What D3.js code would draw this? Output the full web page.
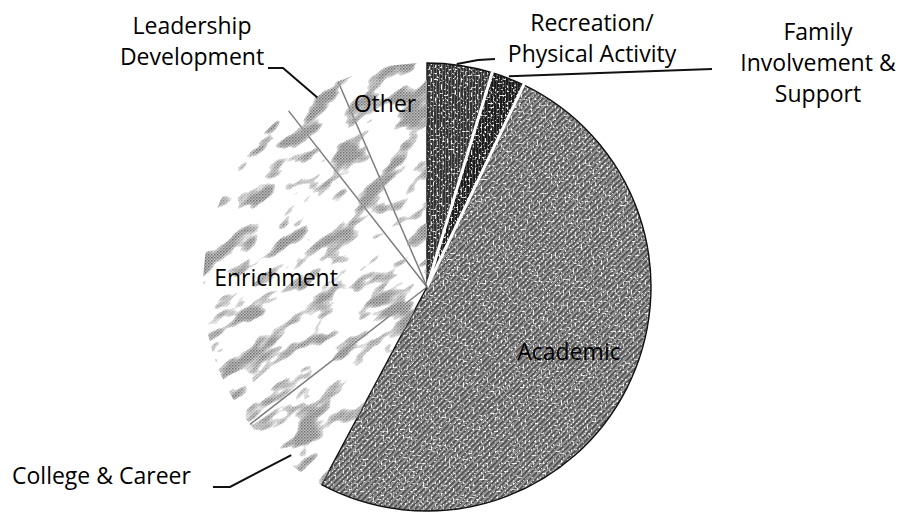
<!DOCTYPE html>
<html>
<head>
<meta charset="utf-8">
<script src="https://cdn.jsdelivr.net/npm/d3@7"></script>
<style>
  html, body { margin: 0; padding: 0; background: #fff; }
  svg { display: block; }
  text { font-family: "Open Sans", "DejaVu Sans", sans-serif; fill: #000; }
</style>
</head>
<body>
<svg id="chart" width="912" height="514"></svg>
<script>
// Share of program activities, in percent, clockwise from 12 o'clock
const categories = [
  "Recreation/Physical Activity",
  "Family Involvement & Support",
  "Academic",
  "College & Career",
  "Enrichment",
  "Leadership Development",
  "Other"
];
const shares = [4.7, 2.4, 50.7, 6.7, 24.9, 4.1, 6.5];

// Label text as drawn (one entry per line)
const labelLines = [
  ["Recreation/", "Physical Activity"],
  ["Family", "Involvement &", "Support"],
  ["Academic"],
  ["College & Career"],
  ["Enrichment"],
  ["Leadership", "Development"],
  ["Other"]
];

const W = 912, H = 514;
const cx = 427, cy = 287, R = 224;

const svg = d3.select("#chart");
const defs = svg.append("defs");

// ---- textures -------------------------------------------------------
// medium grey diagonal hatch
const hatch = defs.append("pattern").attr("id", "hatch")
  .attr("patternUnits", "userSpaceOnUse").attr("width", 4).attr("height", 4)
  .attr("patternTransform", "rotate(45)");
hatch.append("rect").attr("width", 4).attr("height", 4).attr("fill", "#969696");
hatch.append("rect").attr("width", 1.6).attr("height", 4).attr("fill", "#444");

// dark vertical grain
function darkPattern(id, base, stripe) {
  const p = defs.append("pattern").attr("id", id)
    .attr("patternUnits", "userSpaceOnUse").attr("width", 3).attr("height", 3);
  p.append("rect").attr("width", 3).attr("height", 3).attr("fill", base);
  p.append("rect").attr("width", 1).attr("height", 3).attr("fill", stripe);
}
darkPattern("darkA", "#333", "#666");
darkPattern("darkB", "#1c1c1c", "#444");

// fine grey checker used inside the blotches of light slices
const checker = defs.append("pattern").attr("id", "checker")
  .attr("patternUnits", "userSpaceOnUse").attr("width", 3).attr("height", 3);
checker.append("rect").attr("width", 3).attr("height", 3).attr("fill", "#bdbdbd");
checker.append("rect").attr("width", 1.5).attr("height", 1.5).attr("fill", "#707070");
checker.append("rect").attr("x", 1.5).attr("y", 1.5).attr("width", 1.5).attr("height", 1.5).attr("fill", "#8c8c8c");

// white speckle over the printed tones
const speck = defs.append("filter").attr("id", "speck")
  .attr("filterUnits", "userSpaceOnUse")
  .attr("x", -W).attr("y", -H).attr("width", 2 * W).attr("height", 2 * H);
speck.append("feTurbulence").attr("type", "fractalNoise")
  .attr("baseFrequency", 0.5).attr("numOctaves", 2).attr("seed", 4).attr("result", "n");
speck.append("feColorMatrix").attr("in", "n").attr("type", "matrix")
  .attr("values", "0 0 0 0 1  0 0 0 0 1  0 0 0 0 1  5 0 0 0 -2.8").attr("result", "w");
speck.append("feComposite").attr("in", "w").attr("in2", "SourceGraphic")
  .attr("operator", "in").attr("result", "ws");
const merge = speck.append("feMerge");
merge.append("feMergeNode").attr("in", "SourceGraphic");
merge.append("feMergeNode").attr("in", "ws");

// blotchy mask for the light slices, stretched along a diagonal
const blotch = defs.append("filter").attr("id", "blotchNoise")
  .attr("filterUnits", "userSpaceOnUse")
  .attr("x", -W).attr("y", -H).attr("width", 3 * W).attr("height", 3 * H);
blotch.append("feTurbulence").attr("type", "fractalNoise")
  .attr("baseFrequency", "0.022 0.06").attr("numOctaves", 3).attr("seed", 7).attr("result", "n");
blotch.append("feColorMatrix").attr("in", "n").attr("type", "matrix")
  .attr("values", "7 0 0 0 -3.75  7 0 0 0 -3.75  7 0 0 0 -3.75  0 0 0 0 1");
const mask = defs.append("mask").attr("id", "blotchMask")
  .attr("maskUnits", "userSpaceOnUse")
  .attr("x", 0).attr("y", 0).attr("width", W).attr("height", H);
mask.append("rect")
  .attr("x", -W).attr("y", -H).attr("width", 3 * W).attr("height", 3 * H)
  .attr("fill", "#fff").attr("filter", "url(#blotchNoise)")
  .attr("transform", `rotate(-35 ${cx} ${cy})`);

const fills = ["url(#darkA)", "url(#darkB)", "url(#hatch)", "#ffffff", "#ffffff", "#ffffff", "#ffffff"];
const isLight = [false, false, false, true, true, true, true];

// ---- pie ------------------------------------------------------------
const data = categories.map((c, i) => ({ name: c, value: shares[i], i }));
const pie = d3.pie().sort(null).value(d => d.value).startAngle(0).endAngle(2 * Math.PI);
const arcs = pie(data);
const arc = d3.arc().innerRadius(0).outerRadius(R);

const g = svg.append("g").attr("transform", `translate(${cx},${cy})`);

g.selectAll("path.slice").data(arcs).join("path")
  .attr("class", "slice")
  .attr("d", arc)
  .attr("fill", d => fills[d.data.i])
  .attr("filter", d => isLight[d.data.i] ? null : "url(#speck)");

// grey blotches on the light slices
const lightArcs = arcs.filter(d => isLight[d.data.i]);
const blotchLayer = svg.append("g").attr("mask", "url(#blotchMask)");
blotchLayer.selectAll("path").data(lightArcs).join("path")
  .attr("transform", `translate(${cx},${cy})`)
  .attr("d", arc)
  .attr("fill", "url(#checker)");

// outlines: dark edge round the printed slices, white gaps between them
const darkGroup = arcs.filter(d => !isLight[d.data.i]);
g.selectAll("path.edge").data(darkGroup).join("path")
  .attr("class", "edge").attr("d", arc)
  .attr("fill", "none").attr("stroke", "#111").attr("stroke-width", 1.4);

// radial separators
function radial(a, r) { return [Math.sin(a) * r, -Math.cos(a) * r]; }
const seps = [arcs[0].endAngle, arcs[1].endAngle];
g.selectAll("line.gap").data(seps).join("line")
  .attr("class", "gap")
  .attr("x1", 0).attr("y1", 0)
  .attr("x2", a => radial(a, R + 1)[0]).attr("y2", a => radial(a, R + 1)[1])
  .attr("stroke", "#fff").attr("stroke-width", 3);
// grey streaks along the light boundaries
const lightSeps = [arcs[3].endAngle, arcs[4].endAngle, arcs[5].endAngle];
g.selectAll("line.rule").data(lightSeps).join("line")
  .attr("class", "rule")
  .attr("x1", 0).attr("y1", 0)
  .attr("x2", a => radial(a, R)[0]).attr("y2", a => radial(a, R)[1])
  .attr("stroke", "#666").attr("stroke-width", 1.5).attr("opacity", 0.85);

// ---- labels ---------------------------------------------------------
const fontSize = 23, lineH = 31;
const labelPos = [
  { x: 592, y: 31, anchor: "middle" },
  { x: 818, y: 40, anchor: "middle" },
  { x: 569, y: 360, anchor: "middle" },
  { x: 12,  y: 484, anchor: "start" },
  { x: 276, y: 286, anchor: "middle" },
  { x: 192, y: 34, anchor: "middle" },
  { x: 385, y: 112, anchor: "middle" }
];

const labels = svg.append("g");
data.forEach((d, i) => {
  const p = labelPos[i];
  labelLines[i].forEach((ln, k) => {
    labels.append("text")
      .attr("x", p.x).attr("y", p.y + k * lineH)
      .attr("text-anchor", p.anchor)
      .attr("font-size", fontSize)
      .text(ln);
  });
});

// ---- leader lines ---------------------------------------------------
function edgePoint(i, frac, r) {
  const a = arcs[i].startAngle + (arcs[i].endAngle - arcs[i].startAngle) * frac;
  const p = radial(a, r);
  return [cx + p[0], cy + p[1]];
}
const leaders = [
  [edgePoint(0, 0.45, R + 1), [478, 60], [495, 59]],
  [edgePoint(1, 0.5, R + 2), [712, 69]],
  [[213, 487], [230, 487], edgePoint(3, 0.45, R - 8)],
  [[268, 68], [283, 68], edgePoint(5, 0.55, R - 5)]
];
svg.append("g").selectAll("path").data(leaders).join("path")
  .attr("d", d => d3.line()(d))
  .attr("fill", "none").attr("stroke", "#111").attr("stroke-width", 2);
</script>
</body>
</html>
